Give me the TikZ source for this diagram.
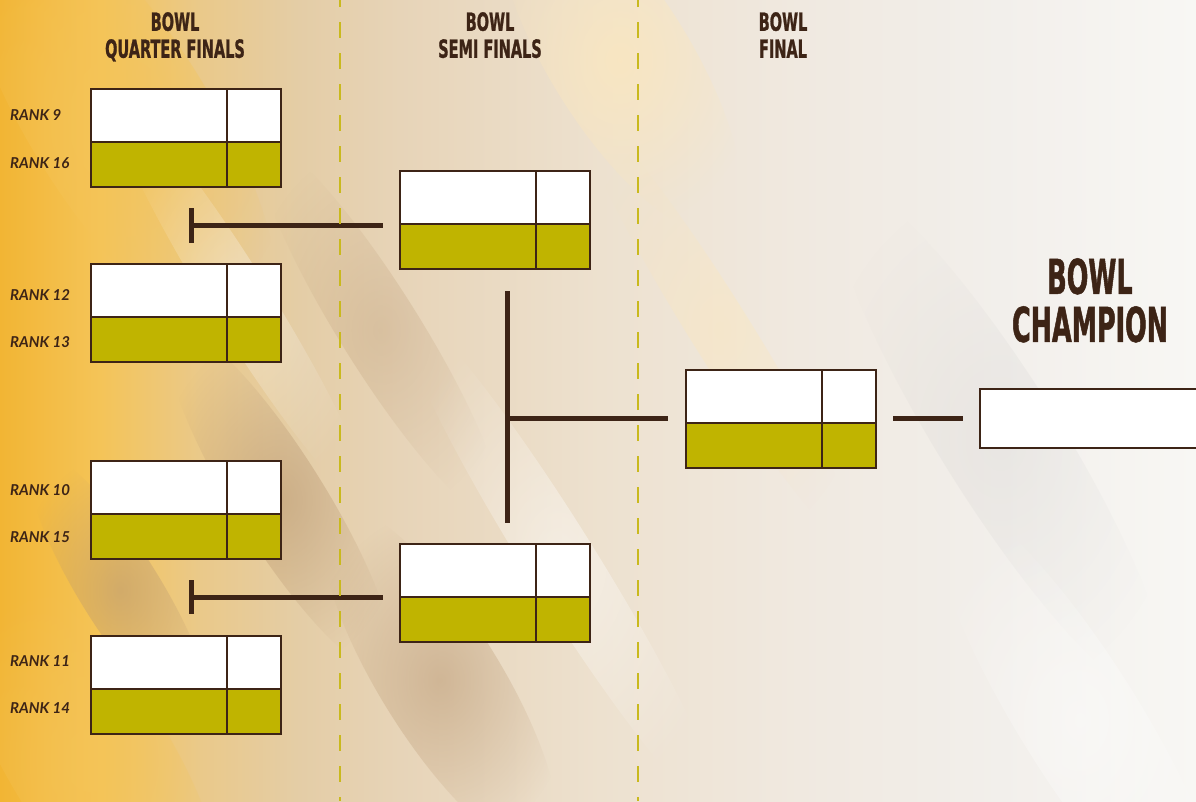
\documentclass[tikz,border=0pt]{standalone}
\usepackage{fontspec}
\usetikzlibrary{fadings}
\newfontfamily\hdrfont[FakeStretch=0.58,FakeBold=1]{DejaVu Sans}
\newfontfamily\champfont[FakeStretch=0.53,FakeBold=1]{DejaVu Sans}
\newfontfamily\rankfont{Lato}
\definecolor{brown}{HTML}{3D2416}
\definecolor{olive}{HTML}{C0B400}
\definecolor{dashcol}{HTML}{C9B91E}
\definecolor{bg0}{HTML}{F2B534}
\definecolor{bg1}{HTML}{F4C458}
\definecolor{bg2}{HTML}{EAC98A}
\definecolor{bg3}{HTML}{E4CDA6}
\definecolor{bg4}{HTML}{E7D4B8}
\definecolor{bg5}{HTML}{EDE1CF}
\definecolor{bg6}{HTML}{F0E9E0}
\definecolor{bg7}{HTML}{F2EFEB}
\definecolor{bg8}{HTML}{F8F7F4}
\definecolor{haze}{HTML}{B89670}
\definecolor{cream}{HTML}{FBE7BE}
\pgfdeclarehorizontalshading{bgshade}{100bp}{color(0bp)=(bg0); color(25bp)=(bg0); color(29.2bp)=(bg1); color(33.4bp)=(bg2); color(37.5bp)=(bg3); color(41.7bp)=(bg4); color(50.1bp)=(bg5); color(58.4bp)=(bg6); color(66.8bp)=(bg7); color(75bp)=(bg8); color(100bp)=(bg8)}
\tikzfading[name=softblob, inner color=transparent!0, outer color=transparent!100]
\tikzset{
  cell/.style={draw=brown, line width=2.8pt, inner sep=0pt, outer sep=0pt, anchor=north west},
  wideW/.style={cell, fill=white, minimum width=136pt, minimum height=53pt},
  narW/.style={cell, fill=white, minimum width=54pt, minimum height=53pt},
  wideO/.style={cell, fill=olive, minimum width=136pt, minimum height=45pt},
  narO/.style={cell, fill=olive, minimum width=54pt, minimum height=45pt},
  conn/.style={draw=brown, line width=5pt},
  divider/.style={draw=dashcol, line width=2.5pt, dash pattern=on 16pt off 15pt, dash phase=9pt},
  hdr/.style={text=brown, font=\hdrfont\bfseries\fontsize{25}{27}\selectfont, align=center, inner sep=0pt, anchor=north},
  champ/.style={text=brown, font=\champfont\bfseries\fontsize{48}{48}\selectfont, align=center, inner sep=0pt, anchor=north},
  rank/.style={text=brown, font=\rankfont\bfseries\itshape\fontsize{15}{15}\selectfont, inner sep=0pt, anchor=west},
  blob/.style={path fading=softblob, fit fading=true}
}
\newcommand{\matchbox}[3]{%
  \node[wideW] (#1tl) at (#2,#3) {};
  \node[narW] (#1tr) at (#2+136,#3) {};
  \node[wideO] (#1bl) at (#2,#3+53) {};
  \node[narO] (#1br) at (#2+136,#3+53) {};
}
\newcommand{\hazeblob}[6]{% color, opacity, cx, cy, rx, ry
  \fill[#1, opacity=#2, blob, rotate around={-58:(#3,#4)}] (#3,#4) ellipse [x radius=#5, y radius=#6];
}
\begin{document}
\begin{tikzpicture}[x=1pt,y=-1pt]
\useasboundingbox (0,0) rectangle (1196,801);
\clip (0,0) rectangle (1196,801);
\shade[shading=bgshade] (0,0) rectangle (1196,801);
% soft hazes and streaks
\hazeblob{bg1}{0.7}{120}{120}{260}{90}
\hazeblob{bg1}{0.6}{90}{760}{220}{80}
\hazeblob{haze}{0.55}{120}{590}{160}{40}
\hazeblob{haze}{0.55}{280}{500}{200}{45}
\hazeblob{haze}{0.50}{440}{680}{200}{60}
\hazeblob{haze}{0.30}{380}{330}{220}{40}
\hazeblob{white}{0.45}{560}{560}{300}{35}
\hazeblob{white}{0.35}{240}{300}{240}{30}
\hazeblob{cream}{0.8}{620}{60}{200}{70}
\hazeblob{cream}{0.5}{720}{330}{260}{30}
\hazeblob{black!25}{0.18}{1000}{440}{300}{60}
\hazeblob{white}{0.40}{1080}{720}{260}{60}
% headers
\node[hdr] (hqf) at (175,12) {BOWL\\QUARTER FINALS};
\node[hdr] (hsf) at (490,12) {BOWL\\SEMI FINALS};
\node[hdr] (hf) at (783,12) {BOWL\\FINAL};
\node[champ] (hch) at (1090,258) {BOWL\\CHAMPION};
% quarter finals
\matchbox{qa}{91}{89}
\matchbox{qb}{91}{264}
\matchbox{qc}{91}{461}
\matchbox{qd}{91}{636}
% semi finals
\matchbox{sa}{400}{171}
\matchbox{sb}{400}{544}
% final
\matchbox{fa}{686}{370}
% champion
\node[cell, fill=white, minimum width=240pt, minimum height=59pt] (ch) at (980,389) {};
% ranks
\node[rank] (r9) at (10,115) {RANK 9};
\node[rank] (r16) at (10,163) {RANK 16};
\node[rank] (r12) at (10,295) {RANK 12};
\node[rank] (r13) at (10,342) {RANK 13};
\node[rank] (r10) at (10,490) {RANK 10};
\node[rank] (r15) at (10,537) {RANK 15};
\node[rank] (r11) at (10,661) {RANK 11};
\node[rank] (r14) at (10,708) {RANK 14};
% connectors
\coordinate (t1a) at (191,208);
\coordinate (t1b) at (191,243);
\coordinate (t1m) at (191,225);
\coordinate (t1e) at (383,225);
\coordinate (t2a) at (191,580);
\coordinate (t2b) at (191,614);
\coordinate (t2m) at (191,597);
\coordinate (t2e) at (383,597);
\coordinate (v1a) at (507,291);
\coordinate (v1b) at (507,523);
\coordinate (v1m) at (507,418);
\coordinate (v1e) at (668,418);
\coordinate (c1a) at (893,418);
\coordinate (c1b) at (963,418);
\draw[conn] (t1a) -- (t1b);
\draw[conn] (t1m) -- (t1e);
\draw[conn] (t2a) -- (t2b);
\draw[conn] (t2m) -- (t2e);
\draw[conn] (v1a) -- (v1b);
\draw[conn] (v1m) -- (v1e);
\draw[conn] (c1a) -- (c1b);
% dividers
\coordinate (d1t) at (340,0);
\coordinate (d1b) at (340,801);
\coordinate (d2t) at (638,0);
\coordinate (d2b) at (638,801);
\draw[divider] (d1t) -- (d1b);
\draw[divider] (d2t) -- (d2b);
\end{tikzpicture}
\end{document}
